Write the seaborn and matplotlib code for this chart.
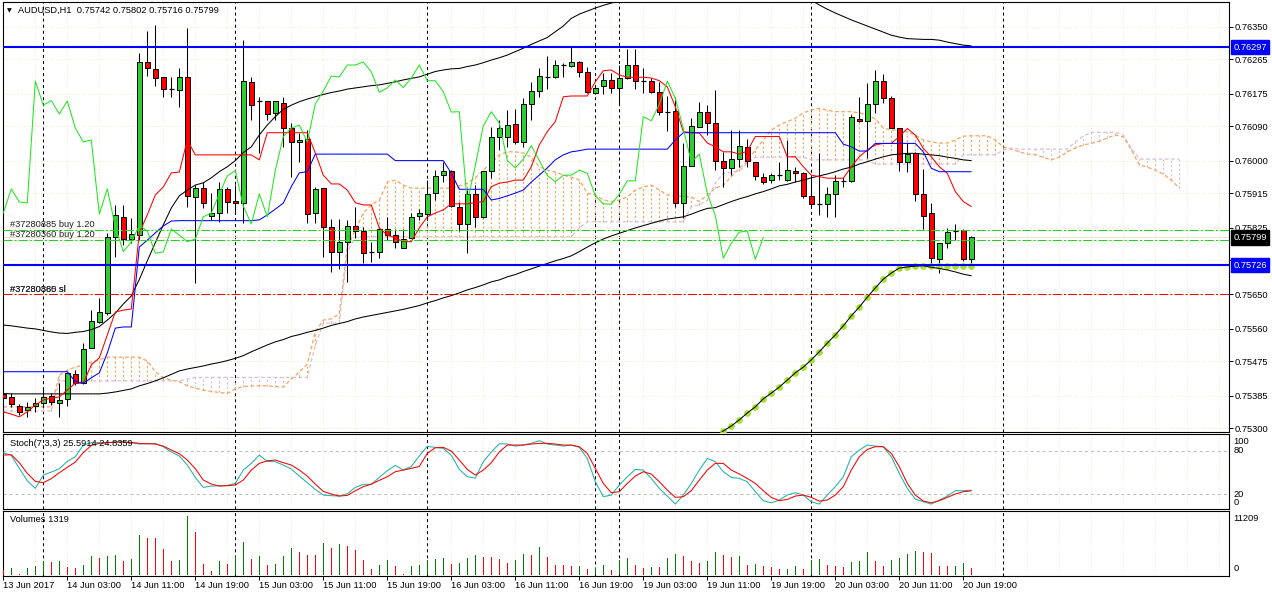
import numpy as np
import matplotlib
matplotlib.use("Agg")
import matplotlib.pyplot as plt
import seaborn as sns

# AUDUSD H1, one value per bar, bar 0 = 13 Jun 19:00
open_ = [
    0.75390, 0.75382, 0.75359, 0.75348, 0.75358, 0.75366, 0.75384, 0.75366, 0.75377, 0.75442,
    0.75418, 0.75510, 0.75578, 0.75601, 0.75800, 0.75853, 0.75795, 0.75805, 0.76258, 0.76240,
    0.76219, 0.76187, 0.76185, 0.76219, 0.75905, 0.75928, 0.75855, 0.75863, 0.75926, 0.75894,
    0.75889, 0.76206, 0.76157, 0.76157, 0.76125, 0.76151, 0.76085, 0.76049, 0.76056, 0.75863,
    0.75928, 0.75827, 0.75762, 0.75787, 0.75830, 0.75816, 0.75761, 0.75761, 0.75821, 0.75805,
    0.75771, 0.75798, 0.75855, 0.75860, 0.75915, 0.75962, 0.75974, 0.75880, 0.75834, 0.75913,
    0.75853, 0.75974, 0.76062, 0.76063, 0.76096, 0.76049, 0.76148, 0.76183, 0.76219, 0.76219,
    0.76250, 0.76248, 0.76258, 0.76232, 0.76177, 0.76195, 0.76211, 0.76191, 0.76216, 0.76250,
    0.76209, 0.76208, 0.76180, 0.76128, 0.76130, 0.75889, 0.75987, 0.76089, 0.76128, 0.76098,
    0.76000, 0.75981, 0.76004, 0.76036, 0.75997, 0.75958, 0.75949, 0.75962, 0.75949, 0.75974,
    0.75967, 0.75908, 0.75886, 0.75886, 0.75912, 0.75947, 0.75947, 0.76110, 0.76104, 0.76147,
    0.76208, 0.76163, 0.76084, 0.75996, 0.76019, 0.75914, 0.75862, 0.75743, 0.75785, 0.75816,
    0.75818, 0.75742]
high_ = [
    0.75403, 0.75392, 0.75364, 0.75369, 0.75379, 0.75408, 0.75392, 0.75418, 0.75447, 0.75452,
    0.75523, 0.75609, 0.75641, 0.75811, 0.75884, 0.75884, 0.75850, 0.76281, 0.76339, 0.76355,
    0.76219, 0.76219, 0.76242, 0.76347, 0.75936, 0.75944, 0.75915, 0.75944, 0.75931, 0.75936,
    0.76315, 0.76219, 0.76167, 0.76157, 0.76156, 0.76167, 0.76098, 0.76072, 0.76080, 0.75932,
    0.75928, 0.75847, 0.75847, 0.75845, 0.75880, 0.75827, 0.75788, 0.75824, 0.75853, 0.75821,
    0.75821, 0.75863, 0.75873, 0.75949, 0.75975, 0.75997, 0.75975, 0.75893, 0.75923, 0.75936,
    0.75974, 0.76089, 0.76106, 0.76132, 0.76135, 0.76164, 0.76206, 0.76242, 0.76274, 0.76263,
    0.76255, 0.76298, 0.76261, 0.76246, 0.76198, 0.76229, 0.76229, 0.76250, 0.76292, 0.76292,
    0.76242, 0.76216, 0.76206, 0.76169, 0.76167, 0.76046, 0.76111, 0.76154, 0.76145, 0.76185,
    0.76023, 0.76080, 0.76080, 0.76056, 0.75997, 0.75968, 0.75968, 0.75996, 0.76054, 0.75984,
    0.75971, 0.75958, 0.76019, 0.75932, 0.75962, 0.75958, 0.76119, 0.76167, 0.76202, 0.76237,
    0.76226, 0.76169, 0.76084, 0.76045, 0.76023, 0.75977, 0.75890, 0.75784, 0.75823, 0.75834,
    0.75820, 0.75802]
low_ = [
    0.75374, 0.75356, 0.75335, 0.75330, 0.75343, 0.75356, 0.75361, 0.75330, 0.75358, 0.75413,
    0.75416, 0.75510, 0.75575, 0.75596, 0.75748, 0.75779, 0.75785, 0.75792, 0.76221, 0.76195,
    0.76166, 0.76166, 0.76140, 0.75879, 0.75680, 0.75876, 0.75845, 0.75839, 0.75863, 0.75863,
    0.75837, 0.76106, 0.76020, 0.76106, 0.76106, 0.76036, 0.75957, 0.75997, 0.75837, 0.75837,
    0.75749, 0.75710, 0.75717, 0.75683, 0.75798, 0.75733, 0.75736, 0.75745, 0.75792, 0.75771,
    0.75771, 0.75798, 0.75845, 0.75845, 0.75897, 0.75945, 0.75880, 0.75817, 0.75759, 0.75827,
    0.75850, 0.75955, 0.76028, 0.76036, 0.76043, 0.76036, 0.76106, 0.76166, 0.76187, 0.76216,
    0.76219, 0.76246, 0.76219, 0.76177, 0.76174, 0.76174, 0.76177, 0.76145, 0.76213, 0.76187,
    0.76177, 0.76178, 0.76119, 0.76078, 0.75880, 0.75850, 0.75987, 0.76089, 0.76067, 0.75975,
    0.75932, 0.75962, 0.75984, 0.75984, 0.75949, 0.75939, 0.75941, 0.75949, 0.75947, 0.75945,
    0.75901, 0.75880, 0.75858, 0.75853, 0.75853, 0.75932, 0.75945, 0.76102, 0.76006, 0.76125,
    0.76151, 0.76084, 0.75974, 0.75971, 0.75895, 0.75821, 0.75718, 0.75705, 0.75772, 0.75792,
    0.75738, 0.75716]
close_ = [
    0.75379, 0.75364, 0.75343, 0.75356, 0.75366, 0.75382, 0.75369, 0.75374, 0.75445, 0.75418,
    0.75507, 0.75581, 0.75604, 0.75800, 0.75858, 0.75795, 0.75808, 0.76258, 0.76242, 0.76216,
    0.76187, 0.76186, 0.76219, 0.75908, 0.75928, 0.75889, 0.75863, 0.75926, 0.75892, 0.75889,
    0.76208, 0.76145, 0.76157, 0.76122, 0.76156, 0.76085, 0.76049, 0.76054, 0.75860, 0.75926,
    0.75827, 0.75762, 0.75787, 0.75830, 0.75816, 0.75758, 0.75761, 0.75821, 0.75805, 0.75788,
    0.75795, 0.75853, 0.75863, 0.75913, 0.75960, 0.75974, 0.75881, 0.75834, 0.75913, 0.75853,
    0.75974, 0.76063, 0.76085, 0.76093, 0.76049, 0.76148, 0.76182, 0.76221, 0.76219, 0.76250,
    0.76250, 0.76258, 0.76232, 0.76179, 0.76190, 0.76211, 0.76191, 0.76216, 0.76250, 0.76209,
    0.76209, 0.76180, 0.76127, 0.76128, 0.75890, 0.75987, 0.76091, 0.76128, 0.76098, 0.76000,
    0.75981, 0.76004, 0.76039, 0.76000, 0.75961, 0.75945, 0.75962, 0.75962, 0.75975, 0.75967,
    0.75908, 0.75887, 0.75886, 0.75912, 0.75947, 0.75947, 0.76115, 0.76104, 0.76147, 0.76208,
    0.76163, 0.76084, 0.75996, 0.76017, 0.75914, 0.75856, 0.75745, 0.75784, 0.75813, 0.75816,
    0.75742, 0.75799]

volume = [
    1008, 1385, 252, 1385, 1637, 2645, 2519, 2708, 1574, 1385,
    1952, 3652, 3274, 3652, 3841, 2708, 3086, 7619, 7053, 6990,
    4975, 2708, 2897, 11209, 8186, 2141, 819, 2708, 2141, 3652,
    6297, 3086, 3652, 1952, 2000, 3652, 5164, 4408, 3841, 3800,
    6108, 5164, 5919, 5541, 4786, 2897, 1196, 1952, 2897, 1763,
    252, 1763, 1952, 2897, 2950, 3274, 2141, 2330, 3274, 3841,
    3463, 3400, 3086, 2330, 2897, 4030, 3841, 5352, 3463, 1952,
    1900, 1763, 1800, 1196, 1300, 1952, 1008, 2897, 3274, 1952,
    1385, 1574, 1520, 3274, 4030, 3652, 2708, 2330, 2708, 4408,
    3841, 3463, 3520, 1952, 2000, 1763, 1574, 1196, 1230, 1763,
    1196, 2897, 2950, 1952, 1763, 1574, 2519, 2708, 4408, 2708,
    1763, 2897, 3274, 4030, 4597, 4408, 4219, 1763, 1740, 1763,
    2330, 1319]

stoch_k = [
    77.2, 73.6, 55.7, 38.7, 28.2, 46.5, 50.6, 55.2, 65.3, 71.7,
    87.8, 91.0, 91.0, 91.0, 92.0, 92.4, 91.0, 89.2, 89.6, 90.0,
    85.5, 78.2, 72.7, 60.3, 43.3, 29.5, 31.4, 31.8, 32.3, 35.0,
    53.4, 62.6, 74.0, 65.3, 64.9, 60.3, 54.8, 45.1, 36.0, 26.8,
    19.0, 18.1, 17.6, 20.8, 29.5, 33.7, 33.7, 43.3, 52.5, 59.8,
    53.4, 58.4, 72.7, 86.0, 84.6, 83.2, 73.6, 54.3, 44.2, 42.4,
    64.9, 78.2, 89.6, 89.2, 86.4, 87.8, 90.1, 93.8, 89.2, 87.8,
    86.4, 87.8, 84.6, 69.4, 37.3, 16.7, 19.0, 32.8, 44.2, 54.3,
    53.4, 41.9, 28.2, 17.6, 6.6, 19.0, 35.0, 53.4, 69.4, 64.9,
    51.1, 43.3, 41.9, 37.3, 23.6, 11.2, 8.4, 12.1, 19.0, 22.2,
    19.0, 9.8, 6.6, 19.0, 30.5, 44.2, 71.7, 80.9, 87.8, 86.4,
    85.5, 71.7, 48.8, 28.2, 13.5, 9.8, 6.6, 12.1, 17.6, 25.0,
    25.0, 25.59]
stoch_d = [
    74.0, 74.5, 63.5, 48.8, 37.8, 36.0, 41.5, 49.7, 57.1, 64.4,
    77.2, 87.3, 90.1, 91.0, 91.9, 91.9, 91.5, 90.1, 89.6, 89.2,
    86.4, 80.9, 75.9, 67.2, 55.2, 39.6, 34.1, 31.4, 31.8, 32.8,
    39.6, 53.4, 62.6, 66.2, 67.2, 63.5, 60.3, 53.4, 45.1, 34.1,
    24.0, 20.4, 17.6, 18.5, 24.9, 30.5, 34.1, 39.2, 44.2, 51.1,
    53.4, 55.7, 58.4, 76.3, 84.1, 84.6, 79.5, 67.2, 54.3, 46.5,
    53.4, 63.5, 78.2, 87.8, 87.8, 87.8, 89.2, 90.1, 90.1, 89.2,
    87.8, 87.8, 85.5, 76.3, 55.7, 35.0, 22.2, 23.6, 35.0, 45.1,
    51.1, 47.9, 37.3, 25.9, 15.8, 16.7, 25.0, 39.6, 53.4, 62.6,
    62.6, 53.4, 47.9, 41.9, 35.0, 25.0, 15.8, 11.2, 13.0, 17.6,
    19.0, 15.8, 10.7, 12.1, 19.0, 30.5, 53.4, 71.7, 81.8, 85.5,
    85.5, 76.3, 58.0, 35.0, 19.0, 10.7, 8.4, 11.2, 15.8, 20.4,
    23.6, 24.84]

tenkan = [
    0.75343, 0.75337, 0.75330, 0.75343, 0.75361, 0.75374, 0.75379, 0.75382, 0.75400, 0.75418,
    0.75418, 0.75466, 0.75484, 0.75544, 0.75604, 0.75609, 0.75612, 0.75811, 0.75858, 0.75910,
    0.75931, 0.75968, 0.75970, 0.76054, 0.76015, 0.76015, 0.76015, 0.76015, 0.76015, 0.76015,
    0.76015, 0.76015, 0.76002, 0.76073, 0.76073, 0.76073, 0.76073, 0.76073, 0.76073, 0.76020,
    0.75962, 0.75939, 0.75939, 0.75923, 0.75890, 0.75884, 0.75884, 0.75824, 0.75805, 0.75798,
    0.75788, 0.75788, 0.75824, 0.75853, 0.75863, 0.75871, 0.75887, 0.75887, 0.75887, 0.75890,
    0.75893, 0.75932, 0.75941, 0.75944, 0.75949, 0.75949, 0.75984, 0.76041, 0.76076, 0.76102,
    0.76167, 0.76169, 0.76169, 0.76169, 0.76206, 0.76235, 0.76237, 0.76224, 0.76218, 0.76218,
    0.76218, 0.76216, 0.76209, 0.76193, 0.76141, 0.76076, 0.76073, 0.76072, 0.76046, 0.76036,
    0.76023, 0.76023, 0.76017, 0.76025, 0.76063, 0.76063, 0.76063, 0.76063, 0.76010, 0.76010,
    0.75984, 0.75962, 0.75958, 0.75954, 0.75954, 0.75954, 0.75984, 0.76010, 0.76028, 0.76041,
    0.76045, 0.76045, 0.76063, 0.76084, 0.76067, 0.76032, 0.76010, 0.75984, 0.75967, 0.75919,
    0.75893, 0.75880]
kijun = ([0.75448] * 9
         + [0.75422, 0.75418, 0.75432, 0.75445, 0.75497, 0.75562, 0.75565, 0.75565,
            0.75774, 0.75792, 0.75811, 0.75829, 0.75842]
         + [0.75843] * 10
         + [0.75845, 0.75858, 0.75873, 0.75889, 0.75932, 0.75968, 0.75971]
         + [0.76017] * 10 + [0.76000] * 7 + [0.75967] + [0.75925] * 4
         + [0.75897, 0.75901, 0.75908, 0.75915, 0.75923, 0.75944, 0.75962, 0.75981,
            0.76002, 0.76015, 0.76023, 0.76026]
         + [0.76030] * 11 + [0.76054] + [0.76073] * 20
         + [0.76043, 0.76036, 0.76025, 0.76025] + [0.76045] * 6
         + [0.76023, 0.75980] + [0.75971] * 5)

# cloud, drawn 26 bars ahead (bars 0..147)
span_a = ([0.75356] * 7 + [0.75439, 0.75452, 0.75460, 0.75466, 0.75473, 0.75479] + [0.75486] * 5
          + [0.75476, 0.75448, 0.75432, 0.75426, 0.75422, 0.75411, 0.75405, 0.75400, 0.75396,
             0.75394, 0.75391, 0.75403, 0.75409, 0.75411, 0.75411, 0.75411, 0.75409, 0.75408,
             0.75429, 0.75447, 0.75468, 0.75552, 0.75583, 0.75586, 0.75599, 0.75774, 0.75818,
             0.75863, 0.75884, 0.75897, 0.75944, 0.75949, 0.75936]
          + [0.75928] * 6
          + [0.75934, 0.75941, 0.75955, 0.75975, 0.75994, 0.76015, 0.76023, 0.76023, 0.76020,
             0.76009, 0.75984, 0.75975, 0.75970, 0.75962, 0.75957, 0.75949, 0.75915, 0.75910,
             0.75897, 0.75893, 0.75897, 0.75905, 0.75923, 0.75931, 0.75936, 0.75923, 0.75910,
             0.75908, 0.75906, 0.75905, 0.75893, 0.75910, 0.75928, 0.75936, 0.75958, 0.75980,
             0.75997, 0.76028, 0.76054, 0.76080, 0.76093, 0.76102, 0.76111, 0.76125, 0.76132,
             0.76137, 0.76132, 0.76128, 0.76128, 0.76128, 0.76125, 0.76119, 0.76109, 0.76085,
             0.76080, 0.76080, 0.76075, 0.76067, 0.76054, 0.76049, 0.76046, 0.76046, 0.76054,
             0.76064, 0.76065, 0.76065, 0.76065, 0.76054, 0.76036, 0.76030, 0.76023, 0.76017,
             0.76015, 0.76009, 0.76002, 0.76009, 0.76023, 0.76033, 0.76041, 0.76045, 0.76051,
             0.76059, 0.76067, 0.76062, 0.76028, 0.75989, 0.75983, 0.75975, 0.75965, 0.75949,
             0.75928])
span_b = ([0.75345] * 7 + [0.75424] * 16 + [0.75429] + [0.75433] * 15 + [0.75518]
          + [0.75575] * 3 + [0.75761] + [0.75801] * 28 + [0.75824] + [0.75840] * 13
          + [0.75880, 0.75884, 0.75897, 0.75941, 0.75967, 0.75970, 0.75973, 0.75994]
          + [0.76009] * 7 + [0.76002] * 8 + [0.75991] * 11 + [0.76015] * 5
          + [0.76028, 0.76033] + [0.76030] * 7 + [0.76049, 0.76064] + [0.76074] * 4
          + [0.76067, 0.76033] + [0.76004] * 6)

# black envelope-like lines
band_upper = [
    0.75570, 0.75568, 0.75565, 0.75562, 0.75560, 0.75556, 0.75552, 0.75549, 0.75548, 0.75551,
    0.75553, 0.75558, 0.75566, 0.75583, 0.75601, 0.75625, 0.75646, 0.75689, 0.75738, 0.75785,
    0.75832, 0.75876, 0.75908, 0.75923, 0.75936, 0.75942, 0.75955, 0.75971, 0.75984, 0.76000,
    0.76021, 0.76036, 0.76067, 0.76093, 0.76115, 0.76134, 0.76145, 0.76154, 0.76161, 0.76167,
    0.76173, 0.76178, 0.76182, 0.76187, 0.76190, 0.76193, 0.76196, 0.76198, 0.76202, 0.76206,
    0.76211, 0.76215, 0.76219, 0.76226, 0.76233, 0.76237, 0.76240, 0.76241, 0.76246, 0.76250,
    0.76256, 0.76263, 0.76269, 0.76276, 0.76285, 0.76294, 0.76304, 0.76313, 0.76322, 0.76337,
    0.76352, 0.76372, 0.76383, 0.76391, 0.76399, 0.76406, 0.76412, 0.76418, 0.76424, 0.76430,
    0.76436, 0.76441, 0.76446, 0.76451, 0.76455, 0.76458, 0.76461, 0.76463, 0.76464, 0.76464,
    0.76463, 0.76461, 0.76458, 0.76455, 0.76451, 0.76447, 0.76443, 0.76438, 0.76433, 0.76428,
    0.76424, 0.76420, 0.76407, 0.76396, 0.76386, 0.76377, 0.76368, 0.76360, 0.76352, 0.76344,
    0.76336, 0.76328, 0.76323, 0.76319, 0.76318, 0.76317, 0.76317, 0.76315, 0.76310, 0.76306,
    0.76302, 0.76300]
band_mid = ([0.75391] + [0.75390] * 12
            + [0.75392, 0.75395, 0.75399, 0.75403, 0.75411, 0.75417, 0.75424,
               0.75432, 0.75441, 0.75450, 0.75455, 0.75459, 0.75463, 0.75468, 0.75472, 0.75477, 0.75483,
               0.75490, 0.75500, 0.75509, 0.75518, 0.75526, 0.75532, 0.75540, 0.75545, 0.75551, 0.75556,
               0.75562, 0.75569, 0.75574, 0.75579, 0.75586, 0.75591, 0.75595, 0.75599, 0.75603, 0.75607,
               0.75611, 0.75616, 0.75621, 0.75628, 0.75634, 0.75641, 0.75647, 0.75654, 0.75662, 0.75668,
               0.75675, 0.75683, 0.75688, 0.75696, 0.75702, 0.75710, 0.75717, 0.75724, 0.75731, 0.75738,
               0.75744, 0.75751, 0.75762, 0.75774, 0.75785, 0.75795, 0.75803, 0.75810, 0.75817, 0.75824,
               0.75830, 0.75836, 0.75842, 0.75847, 0.75850, 0.75853, 0.75860, 0.75868, 0.75875, 0.75877,
               0.75885, 0.75893, 0.75900, 0.75906, 0.75913, 0.75919, 0.75926, 0.75934, 0.75938, 0.75944,
               0.75949, 0.75955, 0.75960, 0.75965, 0.75971, 0.75978, 0.75983, 0.75991, 0.75997, 0.76004,
               0.76010, 0.76015, 0.76017, 0.76019, 0.76019, 0.76017, 0.76015, 0.76013, 0.76009, 0.76006,
               0.76002, 0.76000])

# dotted trailing line (bars 89..121) and its markers (bars 90..121)
trail_line = [
    0.75277, 0.75293, 0.75306, 0.75322, 0.75340, 0.75356, 0.75377, 0.75392, 0.75408, 0.75426,
    0.75445, 0.75460, 0.75479, 0.75500, 0.75523, 0.75544, 0.75568, 0.75594, 0.75617, 0.75643,
    0.75667, 0.75690, 0.75706, 0.75719, 0.75722, 0.75724, 0.75725, 0.75721, 0.75718, 0.75714,
    0.75709, 0.75703, 0.75699]
trail_dots = [
    0.75293, 0.75306, 0.75322, 0.75340, 0.75356, 0.75377, 0.75392, 0.75408, 0.75426, 0.75445,
    0.75460, 0.75479, 0.75500, 0.75523, 0.75544, 0.75568, 0.75594, 0.75617, 0.75643, 0.75667,
    0.75690, 0.75706, 0.75719, 0.75722, 0.75724, 0.75725, 0.75725, 0.75725, 0.75725, 0.75725,
    0.75725, 0.75725]

time_labels = ["13 Jun 2017", "14 Jun 03:00", "14 Jun 11:00", "14 Jun 19:00", "15 Jun 03:00",
               "15 Jun 11:00", "15 Jun 19:00", "16 Jun 03:00", "16 Jun 11:00", "16 Jun 19:00",
               "19 Jun 03:00", "19 Jun 11:00", "19 Jun 19:00", "20 Jun 03:00", "20 Jun 11:00",
               "20 Jun 19:00"]
price_ticks = [0.76350, 0.76265, 0.76175, 0.76090, 0.76000, 0.75915, 0.75825, 0.75740,
               0.75650, 0.75560, 0.75475, 0.75385, 0.75300]
separators = [5, 29, 53, 74, 77, 101, 125]
level_hi, level_lo = 0.76297, 0.75726
buy_1, buy_2, stop_loss = 0.75819, 0.75793, 0.75650
last_price = 0.75799

# ---------------------------------------------------------------
sns.set_theme(style="white", rc={
    "axes.edgecolor": "black", "axes.linewidth": 0.8,
    "xtick.color": "black", "ytick.color": "black", "text.color": "black",
    "xtick.major.size": 2.9, "ytick.major.size": 2.9,
    "xtick.major.width": 0.7, "ytick.major.width": 0.7,
})
plt.rcParams["font.family"] = ["Liberation Sans", "DejaVu Sans"]
FS = 6.7
GRID = "#ecebc4"
UP_CLOUD, DN_CLOUD = "#f4a460", "#d8bfd8"

W, H = 1272, 596
fig = plt.figure(figsize=(W / 100, H / 100), dpi=100)


def panel(top, bottom):
    return fig.add_axes([3 / W, 1 - bottom / H, 1226 / W, (bottom - top) / H])


ax_p = panel(2, 432)
ax_s = panel(434, 509)
ax_v = panel(511, 576)
XL = (-0.0375, 153.2125)

for ax in (ax_p, ax_s, ax_v):
    for g in range(0, 154, 4):
        ax.axvline(g, color=GRID, lw=0.7, ls=(0, (1, 2)), zorder=0)
    for s in separators:
        ax.axvline(s, color="black", lw=0.75, ls=(0, (2.9, 2.9)), zorder=1)

x = np.arange(len(close_))
o, h, l, c = (np.array(v) for v in (open_, high_, low_, close_))

# --- price panel
for t in price_ticks:
    ax_p.axhline(t, color=GRID, lw=0.7, ls=(0, (1, 2)), zorder=0)

a, b = np.array(span_a), np.array(span_b)
xc = np.arange(len(a))
ax_p.vlines(xc, np.minimum(a, b), np.maximum(a, b),
            colors=np.where(a >= b, UP_CLOUD, DN_CLOUD), lw=0.8,
            linestyles=(0, (2, 2)), zorder=1.5)
ax_p.plot(xc, a, color=UP_CLOUD, lw=0.9, ls=(0, (3, 2)), zorder=2)
ax_p.plot(xc, b, color=DN_CLOUD, lw=0.9, ls=(0, (3, 2)), zorder=2)

doji = np.abs(c - o) < 2e-5
ax_p.vlines(x, l, h, color="black", lw=0.75, zorder=3)
body = np.where(c > o, "#32cd32", "#ff0000")
ax_p.bar(x[~doji], np.abs(c - o)[~doji], bottom=np.minimum(o, c)[~doji], width=0.62,
         color=body[~doji], edgecolor="black", linewidth=0.7, zorder=3.2)
ax_p.hlines(o[doji], x[doji] - 0.31, x[doji] + 0.31, color="black", lw=0.9, zorder=3.2)

sns.lineplot(x=x, y=band_upper, ax=ax_p, color="black", linewidth=0.75, zorder=4)
sns.lineplot(x=x, y=band_mid, ax=ax_p, color="black", linewidth=0.75, zorder=4)
sns.lineplot(x=x, y=tenkan, ax=ax_p, color="#ff0000", linewidth=0.75, zorder=4)
sns.lineplot(x=x, y=kijun, ax=ax_p, color="#0000ff", linewidth=0.75, zorder=4)
sns.lineplot(x=x[:len(c) - 26], y=c[26:], ax=ax_p, color="#22e622", linewidth=0.75, zorder=4)

ax_p.plot(np.arange(90, 122), trail_dots, ls="none", marker="o", ms=3.8,
          mfc="#a6e22e", mec="#a6e22e", zorder=4.5)
ax_p.plot(np.arange(89, 122), trail_line, color="black", lw=0.75, zorder=4.6)

ax_p.axhline(last_price, color="#e4e4c8", lw=0.7, zorder=2)
for lv in (level_hi, level_lo):
    ax_p.axhline(lv, color="#0000ff", lw=1.5, zorder=5)
for lv in (buy_1, buy_2):
    ax_p.axhline(lv, color="#1ed21e", lw=0.75, ls=(0, (8.6, 2, 2, 2)), zorder=5)
ax_p.axhline(stop_loss, color="#ff0000", lw=0.75, ls=(0, (8.6, 2, 2, 2)), zorder=5)

tr = ax_p.get_yaxis_transform()
lx = 7 / 1226
ax_p.text(lx, buy_1 + 0.00002, "#37280885 buy 1.20", transform=tr, fontsize=FS,
          color="#202020", va="bottom", zorder=6)
ax_p.text(lx, buy_2 + 0.00002, "#37280360 buy 1.20", transform=tr, fontsize=FS,
          color="#202020", va="bottom", zorder=6)
for tag in ("#37280885 sl", "#37280360 sl"):
    ax_p.text(lx, stop_loss + 0.00002, tag, transform=tr, fontsize=FS,
              color="#202020", va="bottom", zorder=6)

ax_p.set_ylim(0.752903, 0.764148)
ax_p.yaxis.tick_right()
ax_p.set_yticks(price_ticks)
ax_p.set_yticklabels([f"{t:.5f}" for t in price_ticks])
ax_p.tick_params(axis="y", direction="out", length=2.9, pad=1.4, labelsize=FS,
                 right=True, left=False)
ax_p.tick_params(axis="x", bottom=False, labelbottom=False)

for lv, fc in ((level_hi, "#0000ff"), (last_price, "black"), (level_lo, "#0000ff")):
    ax_p.text(1.0034, lv, f"{lv:.5f}", transform=tr, fontsize=FS, color="white",
              ha="left", va="center", clip_on=False, zorder=10,
              bbox=dict(boxstyle="square,pad=0.28", fc=fc, ec=fc))

# --- stochastic panel
for lv in (80, 20):
    ax_s.axhline(lv, color="#c0c0c0", lw=0.75, ls=(0, (2.9, 2.9)), zorder=1)
sns.lineplot(x=x, y=stoch_k, ax=ax_s, color="#20b2aa", linewidth=0.75, zorder=3)
sns.lineplot(x=x, y=stoch_d, ax=ax_s, color="#ff0000", linewidth=0.75, zorder=3)
ax_s.set_ylim(-0.2, 103)
ax_s.text(7 / 1226, 0.876, "Stoch(7,3,3) 25.5914 24.8359", transform=ax_s.transAxes,
          fontsize=FS, va="center", zorder=6)
for lab, fy in (("100", 0.897), ("80", 0.777), ("20", 0.196), ("0", 0.089)):
    ax_s.text(1.0034, fy, lab, transform=ax_s.transAxes, fontsize=FS, va="center",
              ha="left", clip_on=False)

# --- volume panel: one-pixel bars, green when volume rose on the previous bar
vol = np.array(volume)
vcol = ["#008000" if i > 0 and vol[i] > vol[i - 1] else "#ff0000" for i in range(len(vol))]
ax_v.bar(x, vol, width=0.125, color=vcol, linewidth=0, antialiased=False, zorder=3)
ax_v.set_ylim(-190, 12160)
ax_v.text(7 / 1226, 0.862, f"Volumes {volume[-1]}", transform=ax_v.transAxes,
          fontsize=FS, va="center", zorder=6)
ax_v.text(1.0034, 0.892, f"{max(volume)}", transform=ax_v.transAxes, fontsize=FS,
          va="center", ha="left", clip_on=False)
ax_v.text(1.0034, 0.123, "0", transform=ax_v.transAxes, fontsize=FS, va="center",
          ha="left", clip_on=False)

ax_v.set_xticks(np.arange(0, 8 * len(time_labels), 8))
ax_v.set_xticklabels(time_labels, ha="left")
ax_v.tick_params(axis="x", direction="out", length=2.9, pad=1, labelsize=FS, bottom=True)

for ax in (ax_s, ax_v):
    ax.tick_params(axis="y", left=False, right=False, labelleft=False)
for ax in (ax_p, ax_s):
    ax.tick_params(axis="x", bottom=False, labelbottom=False)
for ax in (ax_p, ax_s, ax_v):
    ax.set_xlim(*XL)
    ax.set_xlabel("")
    ax.set_ylabel("")
    for sp in ax.spines.values():
        sp.set_color("black")
        sp.set_linewidth(0.8)

fig.text(9.5 / W, 1 - 10.5 / H, "\u25bc", fontsize=4.5, ha="center", va="center",
         family=["DejaVu Sans"])
fig.text(18.5 / W, 1 - 10.7 / H, "AUDUSD,H1  0.75742 0.75802 0.75716 0.75799",
         fontsize=FS, va="center")

fig.savefig("out.png", dpi=100)
